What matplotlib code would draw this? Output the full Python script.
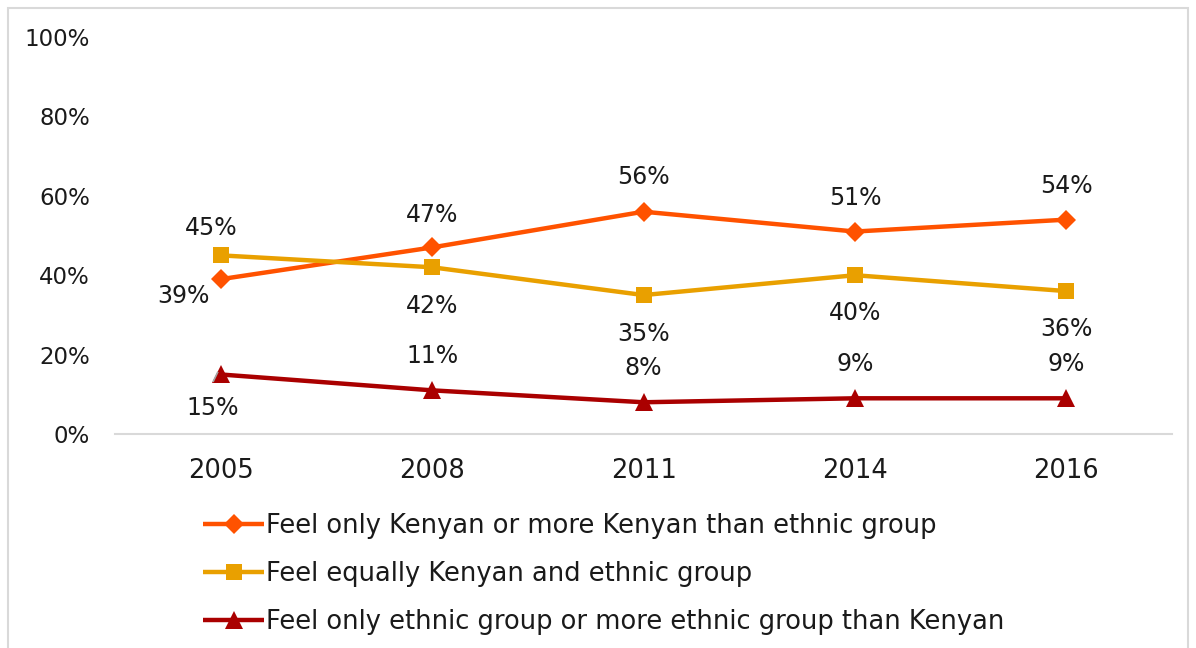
import matplotlib.pyplot as plt
from matplotlib.patches import Rectangle

years = ["2005", "2008", "2011", "2014", "2016"]
more_kenyan = [39, 47, 56, 51, 54]
equally = [45, 42, 35, 40, 36]
more_ethnic = [15, 11, 8, 9, 9]

series_names = [
    "Feel only Kenyan or more Kenyan than ethnic group",
    "Feel equally Kenyan and ethnic group",
    "Feel only ethnic group or more ethnic group than Kenyan",
]
colors = ["#FF5200", "#E9A000", "#AA0000"]
markers = ["D", "s", "^"]
marker_sizes = [10, 12, 13]

# label offsets in pixels (x, y) for each point of each series
label_offsets = [
    [(-37, -17), (0, 32), (0, 35), (0, 34), (0, 34)],
    [(-10, 27), (0, -39), (0, -39), (0, -38), (0, -38)],
    [(-8, -34), (0, 34), (0, 34), (0, 34), (0, 34)],
]

fig = plt.figure(figsize=(11.96, 6.48), dpi=100)
ax = fig.add_axes([0.0962, 0.3302, 0.8838, 0.6127])

x = list(range(len(years)))
all_series = [more_kenyan, equally, more_ethnic]
for vals, name, c, m, ms, offs in zip(all_series, series_names, colors,
                                      markers, marker_sizes, label_offsets):
    ax.plot(x, vals, color=c, lw=3.2, marker=m, markersize=ms,
            markeredgewidth=0, label=name, solid_capstyle="butt")
    for xi, v, (dx, dy) in zip(x, vals, offs):
        ax.annotate(f"{v}%", (xi, v), xytext=(dx, dy), textcoords="offset pixels",
                    ha="center", va="center", fontsize=17, color="#1a1a1a")

# small leader line from the 2005 triangle to its label
ax.plot([-0.035, -0.015], [13.3, 15.5], color="#A6A6A6", lw=1.2, zorder=5)

ax.set_xlim(-0.5, len(years) - 0.5)
ax.set_ylim(0, 100)
ax.set_yticks(range(0, 101, 20))
ax.set_yticklabels([f"{v}%" for v in range(0, 101, 20)])
ax.set_xticks(x)
ax.set_xticklabels(years)
ax.tick_params(axis="y", length=0, pad=18, labelsize=16.5, labelcolor="#1a1a1a")
ax.tick_params(axis="x", length=0, pad=17, labelsize=18.5, labelcolor="#1a1a1a")

for side in ["top", "right", "left"]:
    ax.spines[side].set_visible(False)
ax.spines["bottom"].set_color("#D9D9D9")
ax.spines["bottom"].set_linewidth(1.5)

leg = fig.legend(loc="upper left", bbox_to_anchor=(0.170, 0.208), frameon=False,
                 fontsize=18.5, handlelength=2.35, handletextpad=0.1,
                 labelspacing=0.86, borderpad=0, borderaxespad=0)
for t in leg.get_texts():
    t.set_color("#1a1a1a")

# light frame around the whole chart
fig.patches.append(Rectangle((8 / 1196, -0.01), 1180 / 1196, 1 - 8 / 648 + 0.01,
                             transform=fig.transFigure, fill=False,
                             edgecolor="#D9D9D9", lw=1.5))

fig.savefig("out.png", dpi=100)
